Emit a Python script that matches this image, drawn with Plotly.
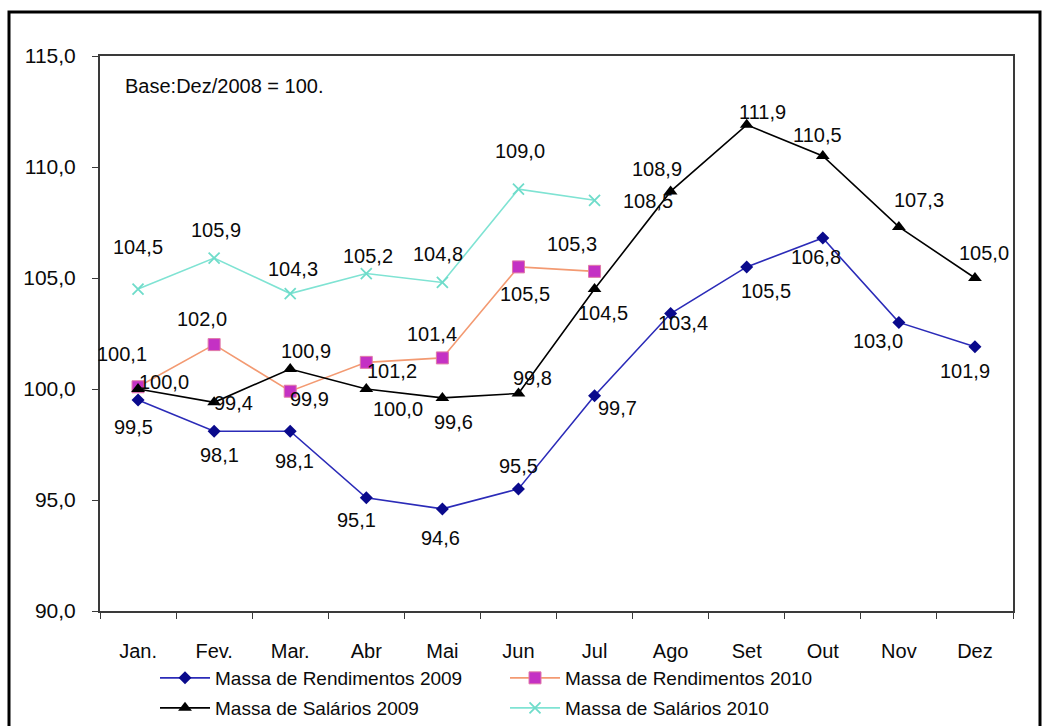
import plotly.graph_objects as go

# Monthly index series (Base: Dez/2008 = 100)
months = ["Jan.", "Fev.", "Mar.", "Abr", "Mai", "Jun", "Jul", "Ago", "Set", "Out", "Nov", "Dez"]

rend_2009 = [99.5, 98.1, 98.1, 95.1, 94.6, 95.5, 99.7, 103.4, 105.5, 106.8, 103.0, 101.9]
rend_2010 = [100.1, 102.0, 99.9, 101.2, 101.4, 105.5, 105.3]
sal_2009 = [100.0, 99.4, 100.9, 100.0, 99.6, 99.8, 104.5, 108.9, 111.9, 110.5, 107.3, 105.0]
sal_2010 = [104.5, 105.9, 104.3, 105.2, 104.8, 109.0, 108.5]

y_ticks = [90, 95, 100, 105, 110, 115]

# Pixel offsets (dx, dy; dy positive = downward) of each value label from its point
off_rend_2009 = [(-5, 27), (5, 24), (4, 30), (-10, 22), (-2, 29), (0, -23),
                 (23, 12), (12, 9), (19, 24), (-7, 19), (-21, 19), (-10, 24)]
off_rend_2010 = [(-16, -33), (-12, -26), (19, 8), (26, 9), (-10, -24), (7, 27), (-23, -27)]
off_sal_2009 = [(26, -7), (19, 1), (16, -18), (32, 20), (11, 24), (14, -15),
                (8, 24), (-14, -22), (16, -13), (-5, -21), (20, -27), (9, -25)]
off_sal_2010 = [(0, -42), (2, -28), (3, -25), (2, -18), (-4, -28), (2, -38), (53, 1)]

FONT = "Arial, Liberation Sans, sans-serif"
TXT = "#0a0a0a"

series = [
    dict(name="Massa de Rendimentos 2009", y=rend_2009, off=off_rend_2009, legend="legend",
         line=dict(color="#2b2bb8", width=1.6),
         marker=dict(symbol="diamond", size=10, color="#0a0a8c")),
    dict(name="Massa de Rendimentos 2010", y=rend_2010, off=off_rend_2010, legend="legend",
         line=dict(color="#f39a72", width=1.6),
         marker=dict(symbol="square", size=12, color="#c431c4",
                     line=dict(color="#e07aa8", width=1))),
    dict(name="Massa de Salários 2009", y=sal_2009, off=off_sal_2009, legend="legend2",
         line=dict(color="#000000", width=1.6),
         marker=dict(symbol="triangle-up", size=12, color="#000000")),
    dict(name="Massa de Salários 2010", y=sal_2010, off=off_sal_2010, legend="legend2",
         line=dict(color="#7fe3d3", width=1.6),
         marker=dict(symbol="x-thin", size=11, color="#6fdcca",
                     line=dict(color="#6fdcca", width=1.8))),
]

fig = go.Figure()
annotations = []
for s in series:
    xs = months[:len(s["y"])]
    fig.add_trace(go.Scatter(
        x=xs, y=s["y"], name=s["name"], mode="lines+markers",
        line=s["line"], marker=s["marker"], legend=s["legend"],
    ))
    for m, v, (dx, dy) in zip(xs, s["y"], s["off"]):
        annotations.append(dict(
            x=m, y=v, xref="x", yref="y", text=f"{v:.1f}".replace(".", ","),
            showarrow=False, xshift=dx, yshift=-dy,
            font=dict(family=FONT, size=20, color=TXT),
        ))

annotations.append(dict(
    x=0.025, y=0.946, xref="paper", yref="paper", xanchor="left", yanchor="middle",
    text="Base:Dez/2008 = 100.", showarrow=False,
    font=dict(family=FONT, size=20, color=TXT),
))

# plot area spans x 100..1013 px, y 56..611 px
PW, PH = 913.0, 555.0


def px(xp):
    return (xp - 100) / PW


def py(yp):
    return (611 - yp) / PH


legend_style = dict(orientation="h", x=px(155), xanchor="left", yanchor="middle",
                    itemwidth=50, entrywidth=285,
                    font=dict(family=FONT, size=19, color=TXT),
                    bgcolor="rgba(0,0,0,0)", borderwidth=0)

fig.update_layout(
    width=1043, height=726,
    margin=dict(l=100, r=30, t=56, b=115, autoexpand=False),
    paper_bgcolor="white", plot_bgcolor="white",
    separators=",.",
    font=dict(family=FONT, size=20, color=TXT),
    annotations=annotations,
    showlegend=True,
    legend=dict(legend_style, y=py(678)),
    legend2=dict(legend_style, y=py(708)),
    shapes=[dict(type="rect", xref="paper", yref="paper",
                 x0=px(9), x1=px(1040), y0=py(740), y1=py(12),
                 line=dict(color="#000000", width=3), fillcolor="rgba(0,0,0,0)",
                 layer="above")],
)

fig.update_xaxes(
    type="category", categoryorder="array", categoryarray=months,
    range=[-0.5, 11.5], showgrid=False, zeroline=False,
    showline=True, linecolor="#3a3a3a", linewidth=2, mirror=True,
    ticks="outside", tickson="boundaries", ticklen=6, tickcolor="#3a3a3a", tickwidth=1,
    tickfont=dict(family=FONT, size=20, color=TXT), ticklabelstandoff=21,
)
fig.update_yaxes(
    range=[90, 115], tickvals=y_ticks, tickformat=".1f", showgrid=False, zeroline=False,
    showline=True, linecolor="#3a3a3a", linewidth=2, mirror=True,
    ticks="outside", ticklen=6, tickcolor="#3a3a3a", tickwidth=1,
    tickfont=dict(family=FONT, size=21, color=TXT), ticklabelstandoff=12,
)

fig.write_html("out.html")
